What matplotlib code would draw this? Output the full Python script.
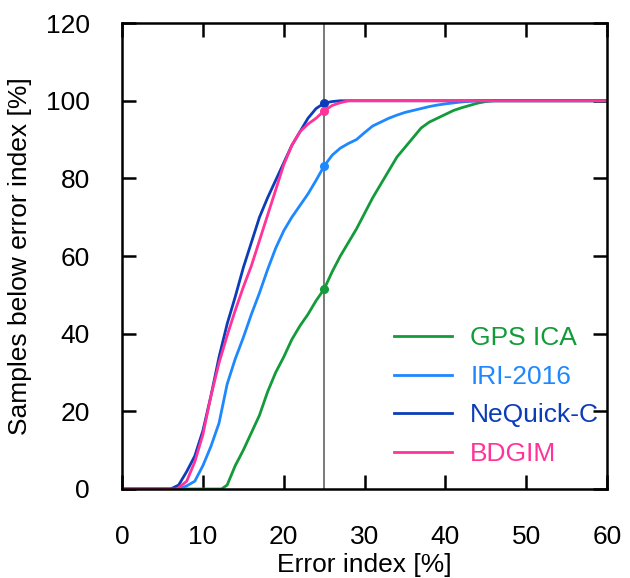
import numpy as np
import matplotlib.pyplot as plt

plt.rcParams['font.family'] = ['Liberation Sans', 'DejaVu Sans']

# 误差指数 (%) 与累计样本百分比
gps_x = [0, 12.3, 13, 14, 15, 16, 17, 18, 19, 20, 21, 22, 23, 24, 25, 26, 27, 28, 29, 30,
         31, 32, 33, 34, 35, 36, 37, 38, 39, 40, 41, 42, 43, 44, 45, 46, 60]
gps_y = [0, 0, 1, 6, 10, 14.5, 19, 25, 30, 34, 38.5, 42, 45, 48.5, 51.5, 56, 60, 63.5, 67, 71,
         75, 78.5, 82, 85.5, 88, 90.5, 93, 94.5, 95.5, 96.5, 97.5, 98.2, 98.8, 99.4, 99.8, 100, 100]

iri_x = [0, 7, 8, 9, 10, 11, 12, 13, 14, 15, 16, 17, 18, 19, 20, 21, 22, 23, 24, 25, 26, 27,
         28, 29, 30, 31, 32, 33, 34, 35, 36, 37, 38, 39, 40, 42, 44, 60]
iri_y = [0, 0, 0.8, 2, 6, 11, 17, 27, 33.5, 39, 45, 50.5, 56.5, 62, 66.5, 70, 73, 76, 79.5, 83.2,
         86, 87.8, 89, 90, 91.8, 93.5, 94.5, 95.5, 96.3, 97, 97.5, 98, 98.5, 98.9, 99.2, 99.7, 100, 100]

neq_x = [0, 6, 7, 8, 9, 10, 11, 12, 13, 14, 15, 16, 17, 18, 19, 20, 21, 22, 23, 24, 25, 26, 27, 60]
neq_y = [0, 0, 1, 4.5, 8.5, 15, 24, 34, 42.5, 49.5, 57, 63.5, 70, 75, 79.5, 84, 88.5, 92, 95.5,
         98, 99.4, 99.8, 100, 100]

bdg_x = [0, 6.8, 8, 9, 10, 11, 12, 13, 14, 15, 16, 17, 18, 19, 20, 21, 22, 23, 24, 25, 26, 27, 28, 60]
bdg_y = [0, 0, 2, 7, 14, 24, 32.5, 39.5, 46, 52, 57.5, 64, 70.5, 77, 83.5, 88.5, 92, 94, 95.5,
         97.4, 98.8, 99.5, 100, 100]

names = ['GPS ICA', 'IRI-2016', 'NeQuick-C', 'BDGIM']
colors = ['#139a3a', '#1e88ff', '#0c3db8', '#ff3399']
series = [(gps_x, gps_y), (iri_x, iri_y), (neq_x, neq_y), (bdg_x, bdg_y)]
ref_x = 25

fig = plt.figure(figsize=(6.3, 5.78), dpi=100)
ax = fig.add_axes([0.1937, 0.154, 0.77, 0.806])

ax.axvline(ref_x, color='#555555', linewidth=1.1, zorder=1)
for (x, y), c, n in zip(series, colors, names):
    ax.plot(x, y, color=c, linewidth=2, label=n, zorder=2)
    ax.plot(ref_x, np.interp(ref_x, x, y), 'o', color=c, markersize=5.5, zorder=3)

ax.set_xlim(0, 60)
ax.set_ylim(0, 120)
ax.set_xticks(range(0, 61, 10))
ax.set_yticks(range(0, 121, 20))
for s in ax.spines.values():
    s.set_linewidth(1.8)
ax.tick_params(direction='in', length=10, width=1.8, top=True, right=True,
               labelsize=19)
ax.tick_params(axis='x', pad=26)
ax.tick_params(axis='y', pad=23)
ax.set_xlabel('Error index [%]', fontsize=19, labelpad=3)
ax.set_ylabel('Samples below error index [%]', fontsize=19, labelpad=10)

leg = ax.legend(loc='upper left', bbox_to_anchor=(0.511, 0.40), frameon=False,
                fontsize=19, handlelength=2.2, handletextpad=0.7, labelspacing=0.55,
                borderpad=0.4)
for t, c in zip(leg.get_texts(), colors):
    t.set_color(c)

fig.savefig('out.png', dpi=100)
